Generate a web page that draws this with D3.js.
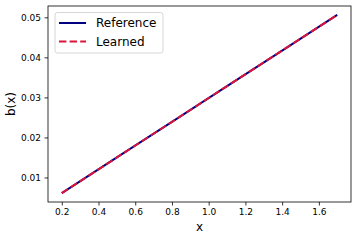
<!DOCTYPE html>
<html>
<head>
<meta charset="utf-8">
<script src="https://cdn.jsdelivr.net/npm/d3@7"></script>
<style>
  body { margin: 0; background: #fff; }
  svg { font-family: "DejaVu Sans", sans-serif; }
</style>
</head>
<body>
<svg id="canvas"></svg>
<script>
// values
const xValues = [0.2, 0.5, 0.8, 1.1, 1.4, 1.7]
const referenceValues = [0.0061, 0.0150, 0.0239, 0.0328, 0.0417, 0.0506]
const learnedValues = [0.0061, 0.0150, 0.0239, 0.0328, 0.0417, 0.0506]
const xTicks = [0.2, 0.4, 0.6, 0.8, 1.0, 1.2, 1.4, 1.6]
const yTicks = [0.01, 0.02, 0.03, 0.04, 0.05]
const seriesNames = ["Reference", "Learned"]

const width = 357
const height = 240
const margin = { top: 6, right: 6, bottom: 38, left: 48 }

let canvas = d3.select("#canvas")
canvas.attr("width", width).attr("height", height)

// matplotlib-like 5% padding around the data
let xMin = d3.min(xValues), xMax = d3.max(xValues)
let allY = referenceValues.concat(learnedValues)
let yMin = d3.min(allY), yMax = d3.max(allY)
let xPad = (xMax - xMin) * 0.05
let yPad = (yMax - yMin) * 0.05

let xScale = d3.scaleLinear()
    .domain([xMin - xPad, xMax + xPad])
    .range([margin.left, width - margin.right])
let yScale = d3.scaleLinear()
    .domain([yMin - yPad, yMax + yPad])
    .range([height - margin.bottom, margin.top])

// axes
let xAxis = d3.axisBottom(xScale).tickValues(xTicks).tickSize(3.5).tickPadding(3.5).tickFormat(d3.format(".1f"))
let yAxis = d3.axisLeft(yScale).tickValues(yTicks).tickSize(3.5).tickPadding(3.5).tickFormat(d3.format(".2f"))

let gx = canvas.append("g")
    .attr("transform", `translate(0, ${height - margin.bottom})`)
    .call(xAxis)
let gy = canvas.append("g")
    .attr("transform", `translate(${margin.left}, 0)`)
    .call(yAxis)

for (let g of [gx, gy]) {
    g.select(".domain").remove()
    g.selectAll(".tick line").attr("stroke", "#000").attr("stroke-width", 0.8)
    g.selectAll(".tick text").attr("font-size", 9).attr("fill", "#000")
        .attr("font-family", "DejaVu Sans, sans-serif")
}

// lines
let line = d3.line()
    .x((d, i) => xScale(xValues[i]))
    .y(d => yScale(d))

canvas.append("path")
    .datum(referenceValues)
    .attr("d", line)
    .attr("fill", "none")
    .attr("stroke", "navy")
    .attr("stroke-width", 2)

canvas.append("path")
    .datum(learnedValues)
    .attr("d", line)
    .attr("fill", "none")
    .attr("stroke", "crimson")
    .attr("stroke-width", 2)
    .attr("stroke-dasharray", "7.4,3.2")

// frame
canvas.append("rect")
    .attr("x", margin.left)
    .attr("y", margin.top)
    .attr("width", width - margin.left - margin.right)
    .attr("height", height - margin.top - margin.bottom)
    .attr("fill", "none")
    .attr("stroke", "#000")
    .attr("stroke-width", 0.8)

// axis labels
canvas.append("text")
    .attr("x", (margin.left + width - margin.right) / 2)
    .attr("y", 231)
    .attr("text-anchor", "middle")
    .attr("font-size", 12)
    .text("x")

canvas.append("text")
    .attr("transform", `translate(15, ${(margin.top + height - margin.bottom) / 2}) rotate(-90)`)
    .attr("text-anchor", "middle")
    .attr("font-size", 12)
    .text("b(x)")

// legend
let legend = canvas.append("g")
legend.append("rect")
    .attr("x", 55)
    .attr("y", 12.5)
    .attr("width", 108)
    .attr("height", 40.5)
    .attr("rx", 2.5)
    .attr("fill", "#fff")
    .attr("fill-opacity", 0.8)
    .attr("stroke", "#ccc")
    .attr("stroke-width", 0.8)

let legendColors = ["navy", "crimson"]
let legendDash = [null, "7.4,3.2"]
seriesNames.forEach((name, i) => {
    let cy = 23 + i * 18.5
    legend.append("line")
        .attr("x1", 59).attr("x2", 86)
        .attr("y1", cy).attr("y2", cy)
        .attr("stroke", legendColors[i])
        .attr("stroke-width", 2)
        .attr("stroke-dasharray", legendDash[i])
    legend.append("text")
        .attr("x", 96)
        .attr("y", cy)
        .attr("dy", "0.35em")
        .attr("font-size", 12)
        .text(name)
})
</script>
</body>
</html>
